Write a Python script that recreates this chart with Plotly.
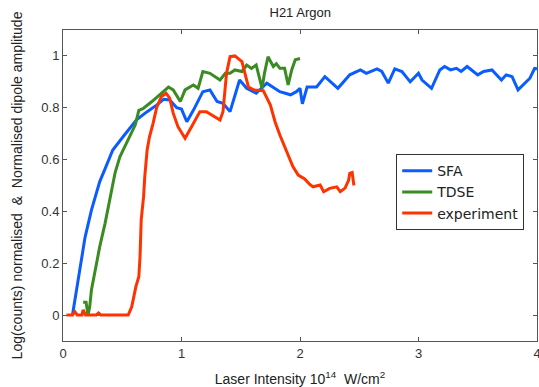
import plotly.graph_objects as go

sfa_x = [0.08, 0.115, 0.15, 0.186, 0.24, 0.31, 0.36, 0.42, 0.51, 0.62, 0.71, 0.79, 0.85, 0.90, 0.96, 1.0,
         1.045, 1.10, 1.18, 1.24, 1.30, 1.35, 1.41, 1.465, 1.49, 1.55, 1.63, 1.72, 1.83, 1.92, 1.97, 2.0,
         2.02, 2.06, 2.14, 2.21, 2.25, 2.32, 2.42, 2.51, 2.56, 2.65, 2.69, 2.745, 2.80, 2.86, 2.93, 3.0,
         3.03, 3.11, 3.18, 3.22, 3.27, 3.32, 3.36, 3.41, 3.50, 3.55, 3.62, 3.70, 3.74, 3.79, 3.84, 3.88,
         3.94, 3.98, 4.0]
sfa_y = [0.0, 0.097, 0.2, 0.30, 0.405, 0.515, 0.57, 0.637, 0.69, 0.753, 0.785, 0.81, 0.833, 0.83, 0.80, 0.795,
         0.746, 0.79, 0.862, 0.869, 0.824, 0.817, 0.785, 0.869, 0.907, 0.875, 0.856, 0.895, 0.862, 0.85, 0.862, 0.875,
         0.815, 0.88, 0.88, 0.92, 0.905, 0.875, 0.927, 0.946, 0.933, 0.95, 0.94, 0.895, 0.95, 0.94, 0.90, 0.933,
         0.907, 0.875, 0.946, 0.959, 0.946, 0.952, 0.94, 0.959, 0.927, 0.94, 0.946, 0.907, 0.927, 0.92, 0.869, 0.888,
         0.914, 0.952, 0.95]

tdse_x = [0.17, 0.195, 0.21, 0.225, 0.24, 0.27, 0.31, 0.355, 0.40, 0.44, 0.48, 0.565, 0.61, 0.64, 0.68, 0.75,
          0.80, 0.89, 0.93, 0.99, 1.03, 1.10, 1.14, 1.18, 1.24, 1.325, 1.37, 1.41, 1.45, 1.51, 1.55, 1.59,
          1.63, 1.68, 1.70, 1.73, 1.775, 1.80, 1.83, 1.87, 1.90, 1.93, 1.96, 2.0]
tdse_y = [0.05, 0.05, 0.0, 0.03, 0.097, 0.174, 0.264, 0.354, 0.457, 0.55, 0.611, 0.688, 0.734, 0.79, 0.798, 0.824,
          0.843, 0.88, 0.869, 0.824, 0.869, 0.888, 0.875, 0.94, 0.933, 0.907, 0.933, 0.933, 0.946, 0.94, 0.965, 0.952,
          0.965, 0.875, 0.933, 0.997, 0.959, 0.97, 0.952, 0.952, 0.888, 0.946, 0.985, 0.99]

exp_x = [0.03, 0.08, 0.10, 0.12, 0.16, 0.17, 0.19, 0.28, 0.30, 0.32, 0.55, 0.58, 0.615, 0.64, 0.65, 0.66,
         0.68, 0.69, 0.71, 0.73, 0.76, 0.79, 0.83, 0.87, 0.90, 0.93, 0.97, 1.03, 1.085, 1.155, 1.21, 1.28,
         1.325, 1.35, 1.38, 1.41, 1.45, 1.51, 1.535, 1.565, 1.61, 1.69, 1.75, 1.79, 1.83, 1.86, 1.90, 1.94,
         1.985, 2.04, 2.08, 2.11, 2.17, 2.20, 2.25, 2.31, 2.34, 2.38, 2.41, 2.42, 2.44, 2.45, 2.455]
exp_y = [0.0, 0.0, 0.013, 0.0, 0.0, 0.02, 0.0, 0.0, 0.008, 0.0, 0.0, 0.032, 0.11, 0.148, 0.225, 0.367,
         0.457, 0.534, 0.637, 0.688, 0.74, 0.80, 0.843, 0.856, 0.837, 0.779, 0.727, 0.682, 0.727, 0.785, 0.785, 0.766,
         0.753, 0.785, 0.933, 0.997, 1.0, 0.978, 0.933, 0.88, 0.869, 0.866, 0.81, 0.745, 0.695, 0.663, 0.615, 0.573,
         0.54, 0.525, 0.505, 0.495, 0.502, 0.476, 0.489, 0.495, 0.476, 0.49, 0.52, 0.547, 0.55, 0.52, 0.50]

x_ticks = [0, 1, 2, 3, 4]
y_ticks = [0, 0.2, 0.4, 0.6, 0.8, 1]
y_tick_labels = ["0", "0.2", "0.4", "0.6", "0.8", "1"]

fig = go.Figure()
fig.add_trace(go.Scatter(x=sfa_x, y=sfa_y, mode="lines", name="SFA",
                         line=dict(color="#0a5cff", width=3)))
fig.add_trace(go.Scatter(x=tdse_x, y=tdse_y, mode="lines", name="TDSE",
                         line=dict(color="#3a8c22", width=3)))
fig.add_trace(go.Scatter(x=exp_x, y=exp_y, mode="lines", name="experiment",
                         line=dict(color="#ff3300", width=3)))

font = "Liberation Sans, Arial, sans-serif"
fig.update_layout(
    width=539, height=387,
    margin=dict(l=63, r=2, t=30, b=46, autoexpand=False),
    paper_bgcolor="white", plot_bgcolor="white",
    font=dict(family=font, size=12, color="#222"),
    title=dict(text="H21 Argon", x=0.557, xanchor="center", y=0.968, yanchor="middle",
               font=dict(size=13, color="#222")),
    showlegend=True,
    legend=dict(x=0.703, y=0.601, xanchor="left", yanchor="top",
                bgcolor="white", bordercolor="#333", borderwidth=1,
                font=dict(family="DejaVu Sans, sans-serif", size=14, color="#222"),
                tracegroupgap=0, itemwidth=30),
)
fig.update_xaxes(range=[0, 4], tickvals=x_ticks, ticks="inside", ticklen=4,
                 showline=True, linecolor="#555", linewidth=1, mirror="ticks",
                 tickcolor="#555", showgrid=False, zeroline=False, automargin=False,
                 ticklabeloverflow="allow",
                 tickfont=dict(size=13, color="#333"),
                 title=dict(text="Laser Intensity 10<sup>14</sup>  W/cm<sup>2</sup>",
                            font=dict(size=14, color="#222")))
fig.update_yaxes(range=[-0.1, 1.1], tickvals=y_ticks, ticktext=y_tick_labels, ticks="inside", ticklen=4,
                 showline=True, linecolor="#555", linewidth=1, mirror="ticks",
                 tickcolor="#555", showgrid=False, zeroline=False, automargin=False,
                 tickfont=dict(size=13, color="#333"),
                 title=dict(text="Log(counts) normalised  &  Normalised dipole amplitude",
                            font=dict(size=14, color="#222")))

fig.write_html("out.html", config={"displayModeBar": False},
               post_script="document.body.style.margin='0';")
